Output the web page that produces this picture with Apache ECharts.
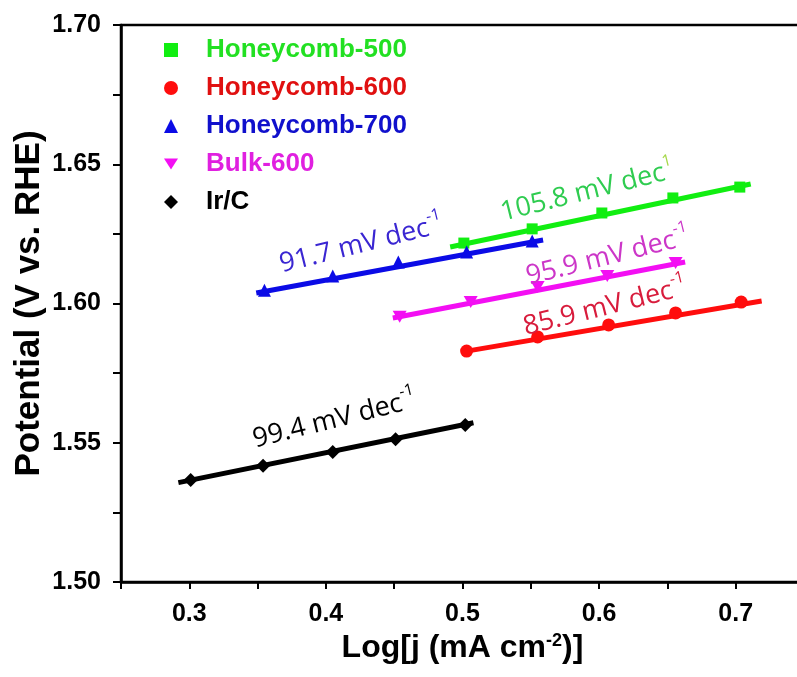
<!DOCTYPE html>
<html>
<head>
<meta charset="utf-8">
<title>Tafel plots</title>
<script src="https://cdn.jsdelivr.net/npm/echarts@6/dist/echarts.min.js"></script>
<style>
  html, body { margin: 0; padding: 0; background: #fff; }
  #chart { width: 797px; height: 677px; }
</style>
</head>
<body>
<div id="chart"></div>
<script>
// Tafel data: Log[j] (x) vs. potential (V vs. RHE)
const honeycomb500X = [0.501, 0.551, 0.602, 0.654, 0.703];
const honeycomb500Y = [1.6217, 1.6268, 1.6325, 1.6379, 1.6418];
const honeycomb600X = [0.503, 0.555, 0.607, 0.656, 0.704];
const honeycomb600Y = [1.5829, 1.5880, 1.5923, 1.5966, 1.6005];
const honeycomb700X = [0.355, 0.405, 0.453, 0.503, 0.551];
const honeycomb700Y = [1.6048, 1.6099, 1.6149, 1.6185, 1.6224];
const bulk600X = [0.454, 0.506, 0.555, 0.606, 0.656];
const bulk600Y = [1.5952, 1.6005, 1.6059, 1.6099, 1.6145];
const irCX = [0.301, 0.354, 0.405, 0.451, 0.502];
const irCY = [1.5366, 1.5417, 1.5467, 1.5513, 1.5564];

// Linear fit segments (start and end points)
const fit500 = [[0.491, 1.6203], [0.711, 1.6429]];
const fit600 = [[0.502, 1.5828], [0.719, 1.6009]];
const fit700 = [[0.349, 1.6038], [0.559, 1.6228]];
const fitBulk = [[0.449, 1.5948], [0.663, 1.6149]];
const fitIrC = [[0.292, 1.5357], [0.508, 1.5572]];

// Tafel slopes (mV dec-1) and where their labels sit
const slopeValues = ['105.8', '91.7', '95.9', '85.9', '99.4'];
const slopeAnchors = [[0.591, 1.6410], [0.4255, 1.6220], [0.606, 1.6176], [0.604, 1.5995], [0.406, 1.5591]];
const slopeColors = ['#2fcc50', '#3a26d2', '#cc36c8', '#d81c3c', '#000000'];

const seriesNames = ['Honeycomb-500', 'Honeycomb-600', 'Honeycomb-700', 'Bulk-600', 'Ir/C'];
const seriesColors = ['#11ee11', '#ff0d0d', '#0b0be6', '#f30ff3', '#000000'];
const legendTextColors = ['#22e022', '#e01010', '#1010cc', '#e020e0', '#000000'];
const symbols = ['rect', 'circle', 'triangle', 'path://M0,0 L2,0 L1,1.6 Z', 'diamond'];
const symbolSizes = [11, 13, 13, [14, 12], 14];

const xs = [honeycomb500X, honeycomb600X, honeycomb700X, bulk600X, irCX];
const ys = [honeycomb500Y, honeycomb600Y, honeycomb700Y, bulk600Y, irCY];
const fits = [fit500, fit600, fit700, fitBulk, fitIrC];

const zip = (a, b) => a.map((v, i) => [v, b[i]]);
const boldFont = 'Liberation Sans, Arial, sans-serif';

const series = [];
seriesNames.forEach((name, i) => {
  series.push({
    type: 'line',
    data: fits[i],
    showSymbol: false,
    silent: true,
    lineStyle: { color: seriesColors[i], width: 5 },
    z: 2
  });
});
seriesNames.forEach((name, i) => {
  series.push({
    name: name,
    type: 'scatter',
    data: zip(xs[i], ys[i]),
    symbol: symbols[i],
    symbolSize: symbolSizes[i],
    itemStyle: { color: seriesColors[i], opacity: 1 },
    z: 3
  });
});
// slope labels
series.push({
  type: 'scatter',
  silent: true,
  symbolSize: 0,
  itemStyle: { opacity: 1 },
  z: 4,
  data: slopeAnchors.map((p, i) => ({
    value: p,
    label: {
      show: true,
      position: 'inside',
      rotate: 14,
      opacity: 1,
      formatter: '{m|' + slopeValues[i] + ' mV dec}{s|' + (i === 0 ? '1' : '-1') + '}',
      rich: {
        m: { fontFamily: 'Open Sans', fontSize: 27, color: slopeColors[i], verticalAlign: 'bottom', lineHeight: 32 },
        s: { fontFamily: 'Open Sans', fontSize: 16, color: i === 0 ? '#a6d84a' : slopeColors[i], verticalAlign: 'top', lineHeight: 32, padding: [0, 0, 15, 0] }
      }
    }
  }))
});

const chart = echarts.init(document.getElementById('chart'));
chart.setOption({
  animation: false,
  backgroundColor: '#ffffff',
  grid: {
    left: 121, top: 25, bottom: 95, right: -7,
    containLabel: false,
    outerBoundsMode: 'none',
    show: true, borderColor: '#000', borderWidth: 2.5
  },
  legend: {
    orient: 'vertical',
    left: 164,
    top: 37,
    padding: 0,
    itemWidth: 14,
    itemHeight: 14,
    itemGap: 12,
    data: seriesNames.map((n, i) => ({
      name: n,
      textStyle: { color: legendTextColors[i] }
    })),
    textStyle: {
      fontFamily: boldFont,
      fontWeight: 'bold',
      fontSize: 26,
      padding: [0, 0, 0, 23]
    }
  },
  xAxis: {
    type: 'value',
    min: 0.25,
    max: 0.75,
    interval: 0.05,
    name: 'Log[j (mA cm{s|-2})]',
    nameLocation: 'middle',
    nameGap: 50,
    nameTextStyle: {
      fontFamily: boldFont,
      fontWeight: 'bold',
      fontSize: 32,
      color: '#000',
      rich: {
        s: { fontFamily: boldFont, fontWeight: 'bold', fontSize: 18, color: '#000', verticalAlign: 'top', padding: [0, 0, 15, 0] }
      }
    },
    axisLine: { onZero: false, lineStyle: { color: '#000', width: 2.5 } },
    axisTick: { inside: false, length: 7, lineStyle: { color: '#000', width: 2 } },
    axisLabel: {
      margin: 20,
      fontFamily: boldFont,
      fontWeight: 'bold',
      fontSize: 25,
      color: '#000',
      formatter: v => {
        const k = Math.round(v * 100);
        return (k % 10 === 0 && k > 25 && k < 75) ? v.toFixed(1) : '';
      }
    },
    splitLine: { show: false }
  },
  yAxis: {
    type: 'value',
    min: 1.5,
    max: 1.7,
    interval: 0.025,
    name: 'Potential (V vs. RHE)',
    nameLocation: 'middle',
    nameGap: 74,
    nameMoveOverlap: false,
    nameTextStyle: {
      fontFamily: boldFont,
      fontWeight: 'bold',
      fontSize: 35,
      color: '#000'
    },
    axisLine: { onZero: false, lineStyle: { color: '#000', width: 2.5 } },
    axisTick: { inside: false, length: 8, lineStyle: { color: '#000', width: 2 } },
    axisLabel: {
      margin: 20,
      fontFamily: boldFont,
      fontWeight: 'bold',
      fontSize: 25,
      color: '#000',
      formatter: v => {
        const k = Math.round(v * 1000);
        return (k % 50 === 0) ? v.toFixed(2) : '';
      }
    },
    splitLine: { show: false }
  },
  series: series
});
</script>
</body>
</html>
